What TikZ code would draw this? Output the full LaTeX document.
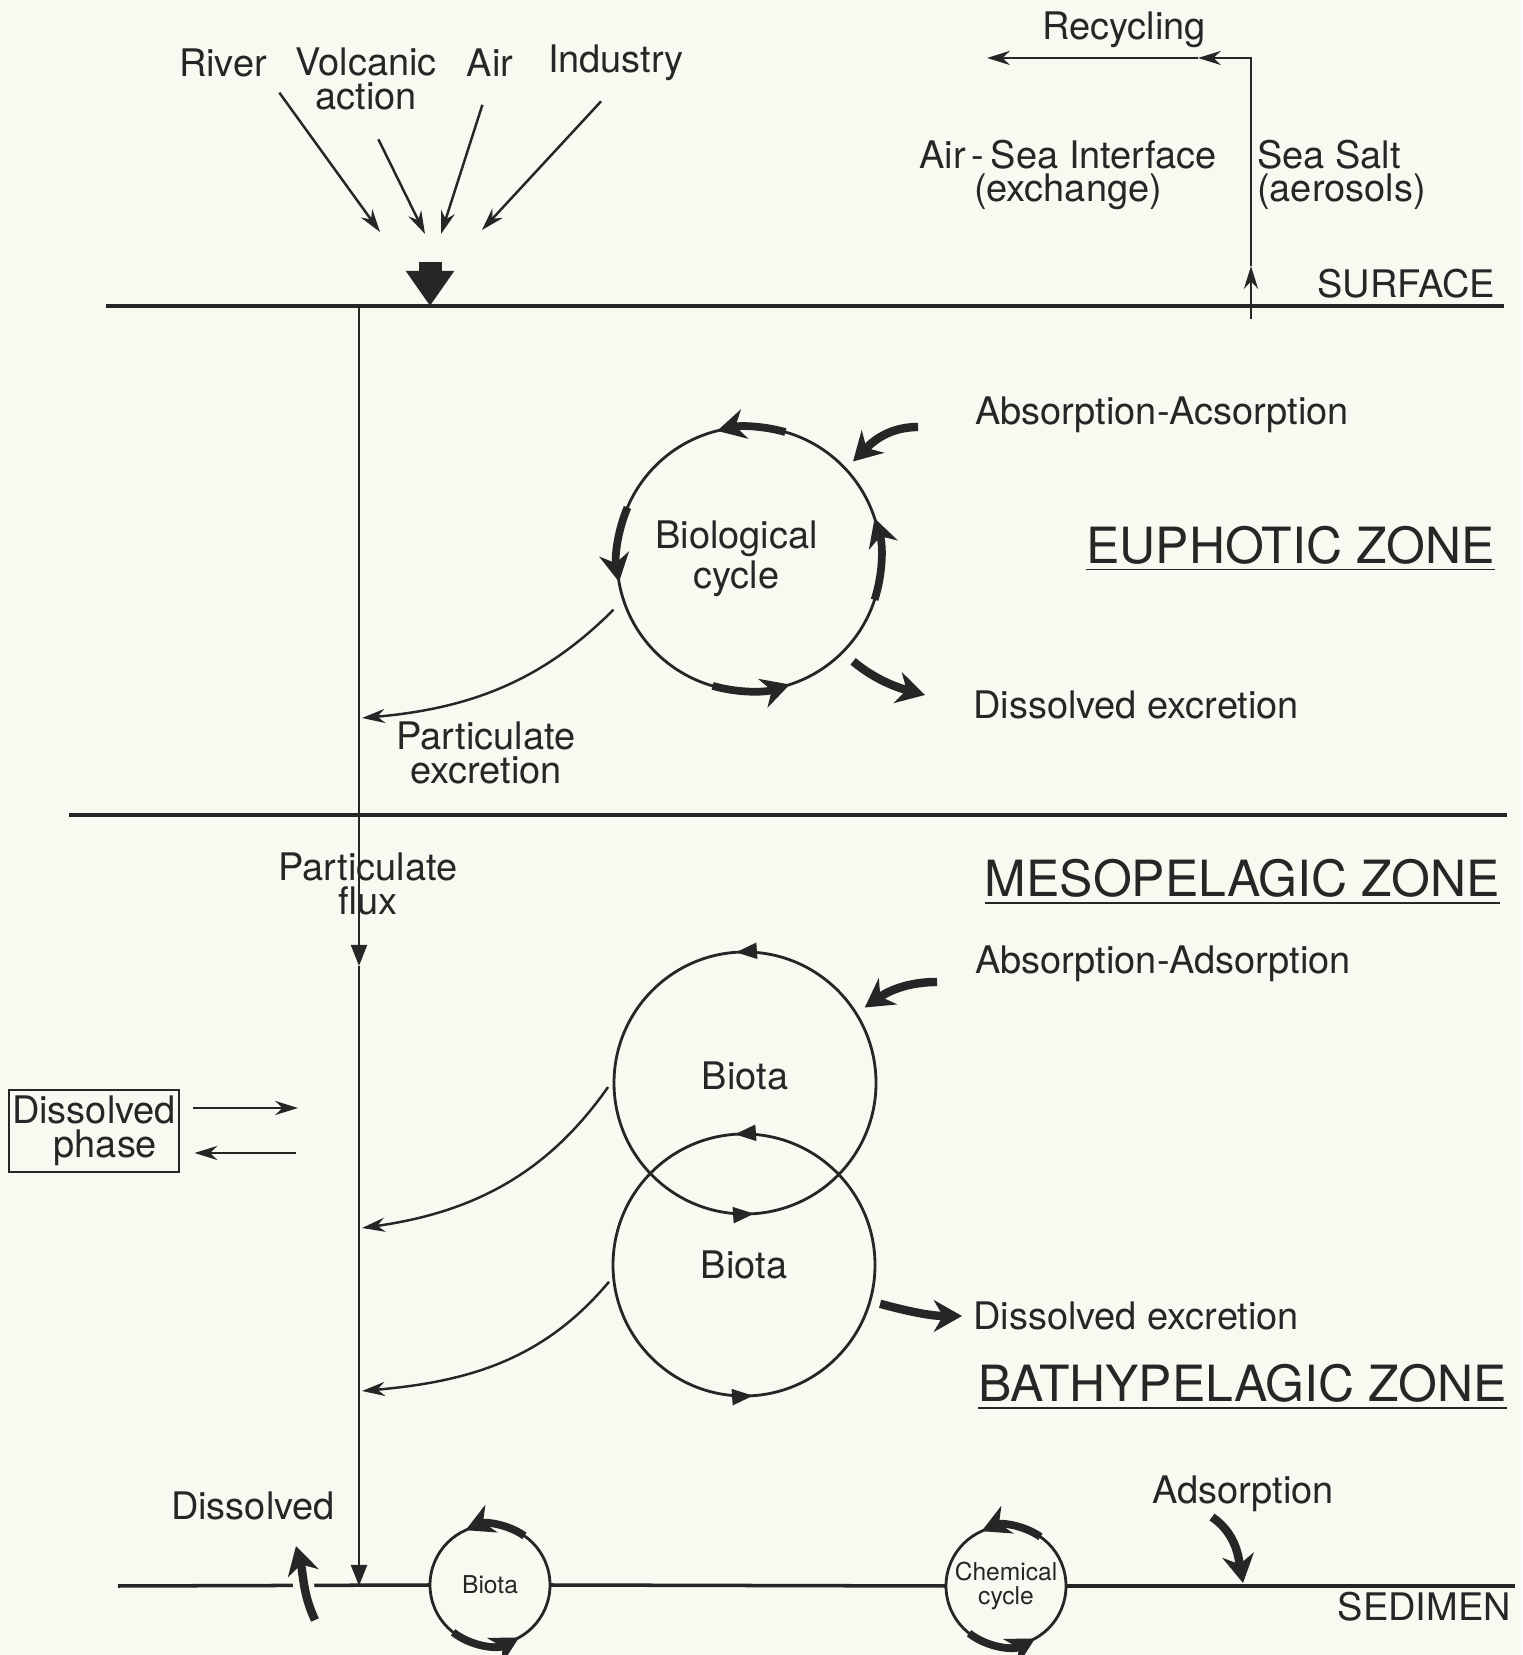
\documentclass[tikz,border=0pt]{standalone}
\usepackage{fontspec}
\setmainfont{TeX Gyre Heros}
\usetikzlibrary{positioning, arrows.meta}

\definecolor{paper}{RGB}{246,250,241}
\definecolor{ink}{RGB}{38,38,38}

\begin{document}
\begin{tikzpicture}[
	font=\fontsize{10.8}{9.6}\selectfont,
	color=ink,
	every node/.style={inner sep=1pt},
	lbl/.style={align=center},
	zone/.style={font=\fontsize{14.2}{16}\selectfont, anchor=base east},
	layer/.style={line width=1pt},
	flow/.style={line width=0.7pt, -{Stealth[length=6.5pt,width=4pt]}},
	tick/.style={line width=0.8pt, -{Triangle[length=6pt,width=4.5pt]}},
	wedge/.style={line width=2.4pt, -{Stealth[length=8pt,width=9pt]}},
	cycarc/.style={line width=2.2pt, -{Stealth[length=8pt,width=8.5pt]}},
	pool/.style={circle, draw, line width=0.8pt, inner sep=0pt, outer sep=0pt, align=center}
	]
	\fill[paper] (0,0) rectangle (15.22,16.55);
	\useasboundingbox (0,0) rectangle (15.22,16.55);

	% sources above the surface
	\node (river) at (2.23,15.92) {River};
	\node[lbl] (volcanic) at (3.66,15.76) {Volcanic\\action};
	\node (air) at (4.90,15.92) {Air};
	\node (industry) at (6.16,15.92) {Industry};
	\coordinate (inR) at (3.80,14.23);
	\coordinate (inV) at (4.25,14.21);
	\coordinate (inA) at (4.41,14.21);
	\coordinate (inI) at (4.82,14.25);
	\draw[flow, shorten <=4pt] (river.south east) -- (inR);
	\draw[flow, shorten <=0.28cm] (volcanic.south) -- (inV);
	\draw[flow, shorten <=0.25cm] (air.south) -- (inA);
	\draw[flow, shorten <=0.22cm] (industry.south) -- (inI);
	\coordinate (drop) at (4.30,13.93);
	\coordinate (inlet) at (4.30,13.49);
	\draw[line width=2.3mm, -{Triangle[length=3.5mm,width=4.6mm]}] (drop) -- (inlet);

	\node (recyc) at (11.24,16.25) {Recycling};
	\node[lbl] (airsea) at (10.68,14.80) {Air\,-\,Sea Interface\\(exchange)};
	\node[align=left, anchor=west] (salt) at (12.53,14.80) {Sea Salt\\(aerosols)};
	\coordinate (saltbase) at (12.51,13.36);
	\coordinate (salttip) at (12.51,13.89);
	\coordinate (corner) at (12.51,15.97);
	\coordinate (recmid) at (11.98,15.97);
	\coordinate (recend) at (9.87,15.97);
	\draw[flow] (saltbase) -- (salttip);
	\draw[flow] (salttip) -- (corner) -- (recmid);
	\draw[flow] (recmid) -- (recend);

	\node[anchor=base east] (surface) at (14.99,13.57) {SURFACE};
	\coordinate (surfL) at (1.06,13.49);
	\coordinate (surfR) at (15.04,13.49);
	\draw[layer] (surfL) -- (surfR);

	% particulate flux
	\coordinate (fluxtop) at (3.59,13.49);
	\coordinate (fluxmid) at (3.59,6.89);
	\coordinate (fluxbot) at (3.59,0.69);
	\draw[tick] (fluxtop) -- (fluxmid);
	\draw[tick] (fluxmid) -- (fluxbot);

	% euphotic zone
	\node[pool, minimum size=2.64cm] (bio) at (7.49,10.96) {\hspace*{-0.25cm}Biological\\\hspace*{-0.25cm}cycle};
	\draw[cycarc] ([shift={(74:1.32)}]bio.center) arc[start angle=74, end angle=104, radius=1.32];
	\draw[cycarc] ([shift={(157:1.32)}]bio.center) arc[start angle=157, end angle=190, radius=1.32];
	\draw[cycarc] ([shift={(254:1.32)}]bio.center) arc[start angle=254, end angle=288, radius=1.32];
	\draw[cycarc] ([shift={(-18:1.32)}]bio.center) arc[start angle=-18, end angle=18, radius=1.32];

	\node[anchor=west] (absorb1) at (9.71,12.40) {Absorption-Acsorption};
	\coordinate (abs1tail) at (9.18,12.28);
	\draw[wedge, shorten >=3pt] (abs1tail) to[out=180, in=45] (bio.43);
	\node[anchor=west] (dissex1) at (9.69,9.50) {Dissolved excretion};
	\coordinate (dx1tip) at (9.25,9.60);
	\draw[wedge, shorten <=4pt] (bio.-45) to[out=-40, in=165] (dx1tip);
	\node[zone] (euph) at (14.99,10.91) {\underline{EUPHOTIC ZONE}};

	\coordinate (pexc1) at (3.62,9.37);
	\draw[flow, shorten <=4pt] (bio.198) to[out=-135, in=5] (pexc1);
	\node[lbl] (partex) at (4.86,9.02) {Particulate\\excretion};

	\coordinate (zoneL) at (0.69,8.40);
	\coordinate (zoneR) at (15.07,8.40);
	\draw[layer] (zoneL) -- (zoneR);

	% mesopelagic and bathypelagic zones
	\node[zone] (meso) at (15.04,7.58) {\underline{MESOPELAGIC ZONE}};
	\node[lbl] (pflux) at (3.68,7.71) {Particulate\\flux};

	\node[pool, minimum size=2.62cm] (biota1) at (7.45,5.72) {\raisebox{4pt}{Biota}};
	\node[pool, minimum size=2.62cm] (biota2) at (7.44,3.90) {Biota};
	\foreach \b in {biota1, biota2} {
		\draw[tick] ([shift={(85:1.31)}]\b.center) arc[start angle=85, end angle=94, radius=1.31];
		\draw[tick] ([shift={(265:1.31)}]\b.center) arc[start angle=265, end angle=274, radius=1.31];
	}

	\node[anchor=west] (absorb2) at (9.71,6.91) {Absorption-Adsorption};
	\coordinate (abs2tail) at (9.37,6.73);
	\draw[wedge, shorten >=3pt] (abs2tail) to[out=180, in=35] (biota1.32);
	\node[anchor=west] (dissex2) at (9.69,3.39) {Dissolved excretion};
	\draw[wedge, shorten <=3pt, shorten >=2pt] (biota2.-16) to[out=-15, in=180] (dissex2.west);

	\coordinate (pexc2) at (3.62,4.27);
	\coordinate (pexc3) at (3.62,2.64);
	\draw[flow, shorten <=3pt] (biota1.178) to[out=-125, in=8] (pexc2);
	\draw[flow, shorten <=2pt] (biota2.185) to[out=-130, in=5] (pexc3);

	\node[draw, line width=0.6pt, align=center, minimum width=1.65cm, minimum height=0.82cm] (dphase) at (0.94,5.24) {Dissolved\\\hspace*{0.6em}phase};
	\coordinate (dpin) at (2.98,5.47);
	\coordinate (dpout) at (2.96,5.02);
	\draw[flow, shorten <=3.5pt] (dphase.east |- dpin) -- (dpin);
	\draw[flow, shorten >=4pt] (dpout) -- (dphase.east |- dpout);

	\node[zone] (bathy) at (15.11,2.53) {\underline{BATHYPELAGIC ZONE}};

	% sediment
	\node[pool, minimum size=1.2cm, font=\fontsize{7}{7.5}\selectfont] (sbiota) at (4.90,0.70) {Biota};
	\node[pool, minimum size=1.2cm, font=\fontsize{7}{7}\selectfont] (chem) at (10.06,0.69) {Chemical\\cycle};
	\coordinate (sedL) at (1.18,0.69);
	\coordinate (sedR) at (15.15,0.69);
	\draw[layer] (sedL) -- (sbiota.west);
	\draw[layer] (sbiota.east) -- (chem.west);
	\draw[layer] (chem.east) -- (sedR);
	\foreach \c in {sbiota, chem} {
		\draw[cycarc] ([shift={(55:0.6)}]\c.center) arc[start angle=55, end angle=114, radius=0.6];
		\draw[cycarc] ([shift={(232:0.6)}]\c.center) arc[start angle=232, end angle=299, radius=0.6];
	}

	\node (dissolved) at (2.53,1.49) {Dissolved};
	\coordinate (dstail) at (3.15,0.35);
	\coordinate (dstip) at (2.96,1.09);
	\draw[paper, line width=6pt, shorten >=4pt, shorten <=4pt] (dstail) to[out=115, in=-75] (dstip);
	\draw[wedge] (dstail) to[out=115, in=-75] (dstip);

	\node (adsorb) at (12.43,1.61) {Adsorption};
	\coordinate (adtail) at (12.12,1.38);
	\coordinate (adtip) at (12.43,0.72);
	\draw[wedge] (adtail) to[out=-35, in=100] (adtip);

	\node[anchor=base east] (sedim) at (15.15,0.34) {SEDIMEN};
\end{tikzpicture}
\end{document}
